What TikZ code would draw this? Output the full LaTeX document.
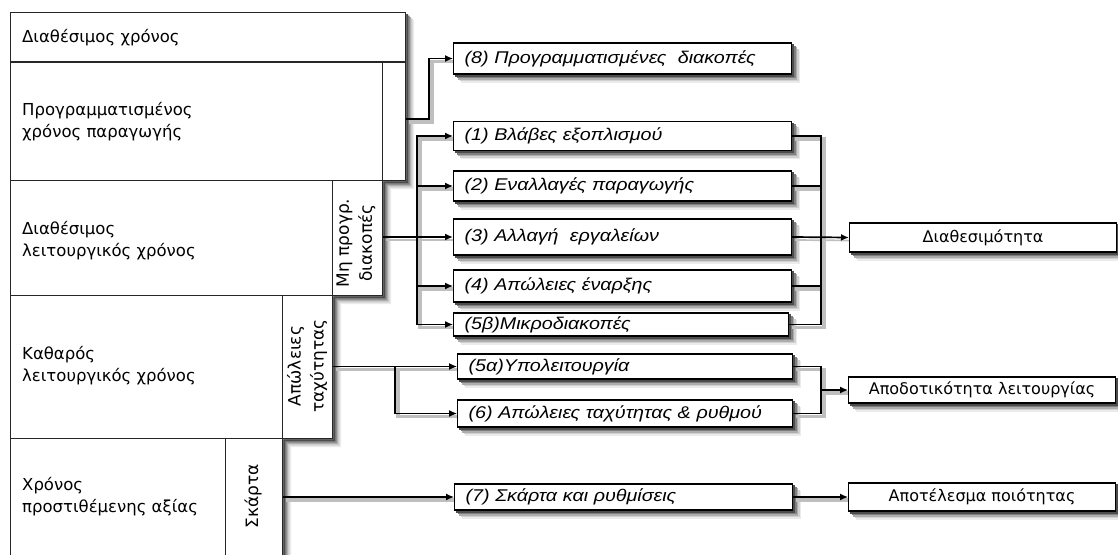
\documentclass[tikz,border=0pt]{standalone}
\usepackage{fontspec}
\setmainfont{DejaVu Sans}
\newfontfamily\lossfont[FakeStretch=1.16]{Liberation Sans}
\usetikzlibrary{arrows.meta}
\pgfdeclarelayer{background}
\pgfsetlayers{background,main}

\tikzset{
  stackbox/.style={draw=black!85, line width=1.1pt, inner sep=0pt, anchor=north west},
  lefttext/.style={anchor=west, align=left, inner sep=0pt, font=\fontsize{16.5}{22}\selectfont},
  coltext/.style={rotate=90, align=center, inner sep=0pt, font=\fontsize{17}{23}\selectfont},
  lossbox/.style={draw, line width=1.1pt, fill=white, anchor=west, inner xsep=11pt,
    inner ysep=0pt, text width=316pt, align=left, font=\lossfont\itshape\fontsize{17}{18}\selectfont},
  resbox/.style={draw, line width=1.1pt, fill=white, anchor=west, minimum width=267pt,
    inner sep=0pt, font=\fontsize{16}{18}\selectfont},
  wire/.style={line width=1.2pt},
  conn/.style={wire, -{Latex[length=8pt,width=7pt]}},
}

% soft drop shadow of a node: stacked grey rectangles, darkest nearest the box
\newcommand\boxshade[1]{%
  \foreach \s/\c in {8/8,6.5/18,5/32,3.5/50,2/70}{%
    \fill[black!\c] ([shift={(\s,\s)}]#1.north west) rectangle ([shift={(\s,\s)}]#1.south east);}}

% all connectors, drawn once as shadow and once in black
\newcommand\connpaths{%
  \draw[conn] (aOut) -- (jA) |- (b8.west);
  \draw[conn, line width=2.2pt] (B.east |- b3.west) -- (b3.west);
  \draw[conn] (jB) |- (b1.west);
  \draw[conn] (jB) |- (b2.west);
  \draw[conn] (jB) |- (b4.west);
  \draw[conn] (jB) |- (b5b.west);
  \draw[wire] (b1.east) -| (jR);
  \draw[wire] (b2.east) -| (jR);
  \draw[wire] (b4.east) -| (jR);
  \draw[wire] (b5b.east) -| (jR);
  \draw[conn, line width=1.7pt] (b3.east) -- (r1.west);
  \draw[conn] (C.east |- b5a.west) -- (b5a.west);
  \draw[conn] (jC) |- (b6.west);
  \draw[wire] (b5a.east) -| (jS);
  \draw[wire] (b6.east) -| (jS);
  \draw[conn] (jS) -- (r2.west);
  \draw[conn] (D.east |- b7.west) -- (b7.west);
  \draw[conn] (b7.east) -- (r3.west);}

\begin{document}
\begin{tikzpicture}[x=1pt, y=-1pt]
\useasboundingbox (0,0) rectangle (1118,554);

% nested time categories, each level with its loss column on the right
\path (10,12) node[stackbox, minimum width=395pt, minimum height=168pt] (A) {}
      (10,62) node[stackbox, minimum width=372pt, minimum height=233pt] (B) {}
      (10,180) node[stackbox, minimum width=322pt, minimum height=258pt] (C) {}
      (10,295) node[stackbox, minimum width=272pt, minimum height=265pt] (D) {}
      (10,438) node[stackbox, minimum width=215pt, minimum height=122pt] (E) {};

% white stepped outline with its shadow
\begin{pgfonlayer}{background}
\foreach \s/\c in {8/8,6.5/18,5/32,3.5/50,2/70}{%
  \fill[black!\c] ([shift={(\s,\s)}]A.north west) -- ([shift={(\s,\s)}]A.north east)
    -- ([shift={(\s,\s)}]A.south east) -| ([shift={(\s,\s)}]B.south east)
    -| ([shift={(\s,\s)}]C.south east) -| ([shift={(\s,\s)}]D.south east)
    -- ([shift={(\s,\s)}]E.south west) -- cycle;}
\fill[white] (A.north west) -- (A.north east) -- (A.south east) -| (B.south east)
  -| (C.south east) -| (D.south east) -- (E.south west) -- cycle;
\end{pgfonlayer}
\draw[line width=1.1pt, draw=black!85] (B.north west) -- (B.north west -| A.east);

\node[lefttext] (tA) at (22,38) {Διαθέσιμος χρόνος};
\node[lefttext] (tB) at (22,122) {Προγραμματισμένος\\χρόνος παραγωγής};
\node[lefttext] (tC) at (22,241) {Διαθέσιμος\\λειτουργικός χρόνος};
\node[lefttext] (tD) at (22,366) {Καθαρός\\λειτουργικός χρόνος};
\node[lefttext] (tE) at (22,497) {Χρόνος\\προστιθέμενης αξίας};

\node[coltext] (cB) at (356,243) {Μη προγρ.\\διακοπές};
\node[coltext] (cC) at (307,366) {Απώλειες\\ταχύτητας};
\node[coltext] (cD) at (253,496) {Σκάρτα};

% the eight losses
\node[lossbox, minimum height=31pt] (b8) at (453,58.5) {(8) Προγραμματισμένες\ \ διακοπές};
\node[lossbox, minimum height=29pt] (b1) at (453,136) {(1) Βλάβες εξοπλισμού};
\node[lossbox, minimum height=30pt] (b2) at (453,186) {(2) Εναλλαγές παραγωγής};
\node[lossbox, minimum height=36pt] (b3) at (453,237) {(3) Αλλαγή\ \ εργαλείων};
\node[lossbox, minimum height=32pt] (b4) at (453,286) {(4) Απώλειες έναρξης};
\node[lossbox, minimum height=23pt, text width=313pt] (b5b) at (453,324.5) {(5β)Μικροδιακοπές};
\node[lossbox, minimum height=25pt, text width=313pt] (b5a) at (457,366.5) {(5α)Υπολειτουργία};
\node[lossbox, minimum height=27pt, text width=313pt] (b6) at (457,413.5) {(6) Απώλειες ταχύτητας \& ρυθμού};
\node[lossbox, minimum height=26pt, text width=316pt] (b7) at (454,497) {(7) Σκάρτα και ρυθμίσεις};

% resulting indicators
\node[resbox, minimum height=29pt] (r1) at (849,237.5) {Διαθεσιμότητα};
\node[resbox, minimum height=26pt] (r2) at (848,390) {Αποδοτικότητα λειτουργίας};
\node[resbox, minimum height=28pt] (r3) at (848,497) {Αποτέλεσμα ποιότητας};

% junction points
\coordinate (aOut) at (A.east |- 0,119);
\coordinate (jA) at (429,119);
\coordinate (jB) at (417,237);
\coordinate (jR) at (821,237);
\coordinate (jC) at (395,366.5);
\coordinate (jS) at (821,390);

% shadows behind boxes and connectors
\begin{pgfonlayer}{background}
\foreach \n in {b8,b1,b2,b3,b4,b5b,b5a,b6,b7,r1,r2,r3}{\boxshade{\n}}
\begin{scope}[transform canvas={shift={(3pt,-3pt)}},
    wire/.style={draw=black!25, line width=3.5pt}, conn/.style={wire}]
  \connpaths
\end{scope}
\end{pgfonlayer}

\connpaths
\end{tikzpicture}
\end{document}
